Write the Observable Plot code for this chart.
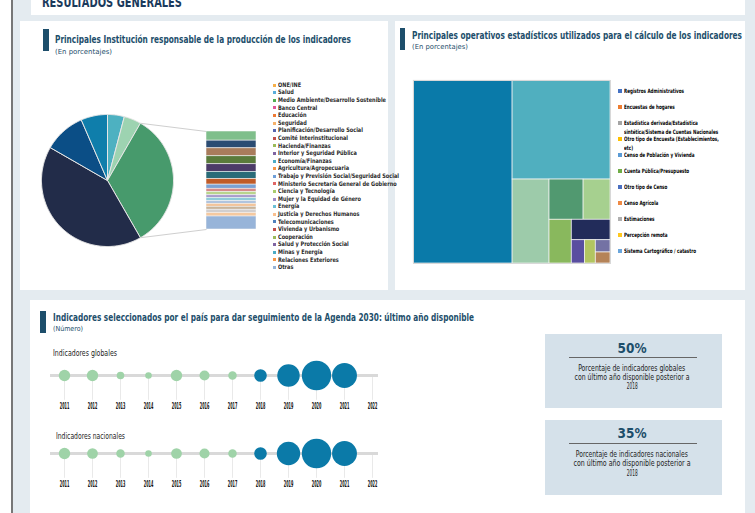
<!DOCTYPE html>
<html><head><meta charset="utf-8">
<script src="https://cdn.jsdelivr.net/npm/d3@7"></script>
<script src="https://cdn.jsdelivr.net/npm/@observablehq/plot@0.6"></script>
<style>
html,body{margin:0;padding:0;}
body{width:755px;height:513px;overflow:hidden;background:#fff;position:relative;}
.blk{position:absolute;}
svg.plot, svg{max-width:none !important;}
</style></head><body>
<script>
// ---------------- DATA ----------------
const instLegend = ["ONE/INE","Salud","Medio Ambiente/Desarrollo Sostenible","Banco Central","Educación","Seguridad","Planificación/Desarrollo Social","Comité Interinstitucional","Hacienda/Finanzas","Interior y Seguridad Pública","Economía/Finanzas","Agricultura/Agropecuaria","Trabajo y Previsión Social/Seguridad Social","Ministerio Secretaría General de Gobierno","Ciencia y Tecnología","Mujer y la Equidad de Género","Energía","Justicia y Derechos Humanos","Telecomunicaciones","Vivienda y Urbanismo","Cooperación","Salud y Protección Social","Minas y Energía","Relaciones Exteriores","Otras"];
const instLegendColors = ["#f6b04a","#5aaedc","#4fae52","#e0569b","#ee7a35","#f6b26b","#5565b0","#c0504d","#9bbb59","#8064a2","#4bacc6","#f79646","#6f9fd8","#e06666","#a9cc6e","#a08cc8","#6cc0d6","#fac08f","#4f81bd","#c0504d","#9bbb59","#8064a2","#4bacc6","#f79646","#95b3d7"];

// pie slices, clockwise from 12 o'clock
const pieSlices = ["Banco Central","Educación","Otras instituciones","ONE/INE","Salud","Medio Ambiente/Desarrollo Sostenible"];
const pieValues = [4.1, 4.2, 33.4, 41.6, 10.2, 6.5];
const pieColors = ["#4db1c1","#9dd3b1","#479a6c","#222c49","#0b4e86","#0f7eab"];

// breakdown bar of "Otras instituciones", top to bottom
const barParts = ["Seguridad","Planificación/Desarrollo Social","Comité Interinstitucional","Hacienda/Finanzas","Interior y Seguridad Pública","Economía/Finanzas","Agricultura/Agropecuaria","Trabajo y Previsión Social/Seguridad Social","Ministerio Secretaría General de Gobierno","Ciencia y Tecnología","Mujer y la Equidad de Género","Energía","Justicia y Derechos Humanos","Telecomunicaciones","Vivienda y Urbanismo","Cooperación","Salud y Protección Social","Otras"];
const barValues = [3.1,2.6,2.7,2.7,2.6,2.4,1.9,1.4,1.1,1.1,0.9,1.1,0.9,1.0,1.0,1.1,1.2,4.4];
const barColors = ["#7fbf8b","#2b4c73","#a97c5c","#5a7b3b","#4c3b68","#2a6b78","#c05b28","#7ba2d4","#d68a8a","#b9d48c","#a99ccb","#8fcbd9","#b0c4de","#f2c49a","#c8b49a","#d2cfcf","#f5c9a0","#97b4d9"];

// operativos estadísticos (treemap)
const opNames = ["Registros Administrativos","Encuestas de hogares","Estadística derivada/Estadística\nsintética/Sistema de Cuentas Nacionales","Otro tipo de Encuesta (Establecimientos,\netc)","Censo de Población y Vivienda","Cuenta Pública/Presupuesto","Otro tipo de Censo","Censo Agrícola","Estimaciones","Percepción remota","Sistema Cartográfico / catastro"];
const opValues = [50.3, 26.9, 8.6, 3.8, 3.0, 2.7, 2.2, 0.85, 0.7, 0.5, 0.45];
const opTileColors = ["#0a7aa9","#50afbf","#9dcbaa","#519970","#a6d08f","#89b85d","#222c5a","#594ea0","#b2c561","#7472a4","#b58358"];
const opLegendColors = ["#4472c4","#ed7d31","#a5a5a5","#ffc000","#5b9bd5","#70ad47","#4a6fc0","#ef8a45","#b0b0b0","#ffc81e","#6aa6dc"];

// timelines
const years = [2011,2012,2013,2014,2015,2016,2017,2018,2019,2020,2021,2022];
const globalCounts = [9,9,4,3,9,7,5,11,35,60,43,0];
const nationalCounts = [9,8,5,3,8,7,5,11,38,60,43,0];
const kpiGlobal = "50%";
const kpiNational = "35%";

// ---------------- STYLE / LAYOUT ----------------
const FONT = "'Liberation Sans Narrow','DejaVu Sans Condensed','Liberation Sans',sans-serif";
const NAVY = "#1d4e6b";
const BG = "#e4ebf0";

function box(x,y,w,h,bg,extra){
  const d=document.createElement("div");d.className="blk";
  Object.assign(d.style,{left:x+"px",top:y+"px",width:w+"px",height:h+"px",background:bg},extra||{});
  document.body.appendChild(d);return d;
}
function label(text,o){
  const d=document.createElement("div");d.className="blk";d.textContent=text;
  Object.assign(d.style,{top:(o.base-0.846*o.size)+"px",fontSize:o.size+"px",lineHeight:o.size+"px",fontWeight:o.weight||"normal",color:o.color||"#222",whiteSpace:"nowrap",fontFamily:FONT,left:o.x+"px"});
  document.body.appendChild(d);
  const nat=d.getBoundingClientRect().width;
  let s=o.sx||1; if(o.w) s=o.w/nat;
  if(o.align==="center"){d.style.left=(o.x-nat/2)+"px";d.style.transformOrigin="50% 0";}
  else d.style.transformOrigin="0 0";
  d.style.transform=`scaleX(${s})`;
  return {el:d,nat,s};
}
function mount(svg,x,y){
  const d=document.createElement("div");d.className="blk";
  d.style.left=x+"px";d.style.top=y+"px";d.appendChild(svg);document.body.appendChild(d);
}

// page background
box(13,0,742,513,BG);
box(11,0,2,513,"#777");
box(31,0,714,15,"#fff");
label("RESULTADOS GENERALES",{x:42,base:7,size:14,weight:"bold",color:"#1b3a5c",w:140});

// panels
box(20,21,368,269,"#fff");
box(395,21,350,269,"#fff");
box(30,300,715,213,"#fff");

// panel titles
box(43,29,6,22,NAVY);
label("Principales Institución responsable de la producción de los indicadores",{x:55,base:43,size:11,weight:"bold",color:NAVY,w:296});
label("(En porcentajes)",{x:55,base:55,size:7,color:NAVY,w:57});
box(400,28,5,22,NAVY);
label("Principales operativos estadísticos utilizados para el cálculo de los indicadores",{x:412,base:39,size:11,weight:"bold",color:NAVY,w:330});
label("(En porcentajes)",{x:412,base:50,size:7,color:NAVY,w:56});
box(40,311,6,22,NAVY);
label("Indicadores seleccionados por el país para dar seguimiento de la Agenda 2030: último año disponible",{x:52.5,base:321,size:11,weight:"bold",color:NAVY,w:421});
label("(Número)",{x:52.5,base:332,size:7,color:NAVY,w:30});

// ---------------- PIE + BAR ----------------
const PIE = {left:30, top:100, w:240, h:160, cx:77, cy:80, r:66};
const BAR = {left:206, top:131, w:50, h:98};
const pieTotal = d3.sum(pieValues);
const piePts = [];
let cum = 0;
const angles = [];
pieValues.forEach((v,i)=>{
  const a0 = cum/pieTotal*2*Math.PI; cum += v; const a1 = cum/pieTotal*2*Math.PI;
  angles.push([a0,a1]);
  piePts.push({s:i,x:0,y:0});
  const n = Math.max(2, Math.ceil((a1-a0)/(Math.PI/180)));
  for(let k=0;k<=n;k++){const a=a0+(a1-a0)*k/n; piePts.push({s:i,x:Math.sin(a),y:Math.cos(a)});}
  piePts.push({s:i,x:0,y:0});
});
const otherIdx = pieSlices.indexOf("Otras instituciones");
const bx = (BAR.left-PIE.left-PIE.cx)/PIE.r;
const byTop = (PIE.cy-(BAR.top-PIE.top))/PIE.r;
const byBot = (PIE.cy-(BAR.top+BAR.h-PIE.top))/PIE.r;
const [oa0,oa1] = angles[otherIdx];
const connectors = [
  {x1:Math.sin(oa0),y1:Math.cos(oa0),x2:bx,y2:byTop},
  {x1:Math.sin(oa1),y1:Math.cos(oa1),x2:bx,y2:byBot}
];
const pie = Plot.plot({
  width:PIE.w,height:PIE.h,margin:0,
  style:"background:transparent;overflow:visible;",
  x:{domain:[-PIE.cx/PIE.r,(PIE.w-PIE.cx)/PIE.r],axis:null},
  y:{domain:[-(PIE.h-PIE.cy)/PIE.r,PIE.cy/PIE.r],axis:null},
  color:{type:"identity"},
  marks:[
    Plot.link(connectors,{x1:"x1",y1:"y1",x2:"x2",y2:"y2",stroke:"#cfcfcf",strokeWidth:1}),
    Plot.line(piePts,{x:"x",y:"y",z:"s",fill:d=>pieColors[d.s],stroke:"#e6e6e6",strokeWidth:1,strokeLinejoin:"round"})
  ]
});
mount(pie,PIE.left,PIE.top);

const barData = barParts.map((n,i)=>({name:n,value:barValues[i],color:barColors[i]}));
const bar = Plot.plot({
  width:BAR.w,height:BAR.h,margin:0,
  style:"background:transparent;",
  x:{domain:["Otras instituciones"],padding:0,axis:null},
  y:{domain:[0,d3.sum(barValues)],reverse:true,axis:null},
  color:{type:"identity"},
  marks:[Plot.barY(barData,{x:()=>"Otras instituciones",y:"value",fill:"color",stroke:"#f2f2f2",strokeWidth:0.6,inset:0})]
});
mount(bar,BAR.left,BAR.top);

// pie legend
{
  const ref = label("Medio Ambiente/Desarrollo Sostenible",{x:-500,base:-50,size:6.2,weight:"bold",w:108});
  const sx = ref.s; ref.el.remove();
  instLegend.forEach((n,i)=>{
    const y = 85 + i*7.6;
    box(273,y-1.5,3,3,instLegendColors[i]);
    label(n,{x:278,base:y+2,size:6.2,weight:"bold",color:"#2a2a2a",sx});
  });
}

// ---------------- TREEMAP ----------------
const TM = {left:413, top:80, w:197, h:183};
function squarify(ratio){
  return function(parent,x0,y0,x1,y1){
    const nodes=parent.children,n=nodes.length;let value=parent.value,i0=0;
    while(i0<n){
      const dx=x1-x0,dy=y1-y0;let i1=i0;let sum=nodes[i1++].value,minV=sum,maxV=sum;
      const alpha=Math.max(dy/dx,dx/dy)/(value*ratio);
      let beta=sum*sum*alpha;let minRatio=Math.max(maxV/beta,beta/minV);
      for(;i1<n;++i1){
        const v=nodes[i1].value,s=sum+v,mn=Math.min(minV,v),mx=Math.max(maxV,v);
        beta=s*s*alpha;const r=Math.max(mx/beta,beta/mn);
        if(r>minRatio)break;
        sum=s;minV=mn;maxV=mx;minRatio=r;
      }
      const row={value:sum,children:nodes.slice(i0,i1)};
      if(dx<dy){const ny=value?y0+dy*sum/value:y1;d3.treemapDice(row,x0,y0,x1,ny);y0=ny;}
      else{const nx=value?x0+dx*sum/value:x1;d3.treemapSlice(row,x0,y0,nx,y1);x0=nx;}
      value-=sum;i0=i1;
    }
  };
}
const root = d3.hierarchy({children:opNames.map((n,i)=>({name:n,value:opValues[i],color:opTileColors[i]}))}).sum(d=>d.value||0);
d3.treemap().size([TM.w,TM.h]).tile(squarify(0.8))(root);
const tm = Plot.plot({
  width:TM.w,height:TM.h,margin:0,
  style:"background:transparent;overflow:visible;",
  x:{domain:[0,TM.w],range:[0,TM.w],axis:null},
  y:{domain:[0,TM.h],range:[0,TM.h],axis:null},
  color:{type:"identity"},
  marks:[
    Plot.rect(root.leaves(),{x1:d=>d.x0,x2:d=>d.x1,y1:d=>d.y0,y2:d=>d.y1,fill:d=>d.data.color,stroke:"#f4f4f4",strokeWidth:0.7}),
    Plot.frame({stroke:"#d8d8d8",strokeWidth:1})
  ]
});
mount(tm,TM.left,TM.top);

// treemap legend
{
  const ref = label("Registros Administrativos",{x:-500,base:-50,size:6,weight:"bold",w:60});
  const sx = ref.s; ref.el.remove();
  opNames.forEach((n,i)=>{
    const y = 91 + i*16;
    box(618,y-2,4,4,opLegendColors[i]);
    n.split("\n").forEach((line,j)=>label(line,{x:624,base:y+2+j*8.6,size:6,weight:"bold",color:"#000",sx}));
  });
}

// ---------------- TIMELINES ----------------
const GREEN="#9fd3a8", BLUE="#0b7aa8";
function timeline(counts){
  const data = years.map((y,i)=>({year:y,value:counts[i]})).filter(d=>d.value>0);
  const svg = Plot.plot({
    width:360,height:75,marginLeft:20,marginRight:12,marginTop:0,marginBottom:0,
    style:`background:transparent;overflow:visible;font-family:${FONT};`,
    x:{type:"point",domain:years,range:[31,344],padding:0,axis:null},
    y:{domain:[0,1],range:[35,66],axis:null},
    r:{domain:[0,60],range:[0,14.7]},
    color:{type:"identity"},
    marks:[
      Plot.ruleX(years,{x:d=>d,y1:()=>0,y2:()=>0.8,stroke:"#e9e9e9",strokeWidth:1}),
      Plot.ruleY([0],{stroke:"#d9d9d9",strokeWidth:3}),
      Plot.dot(data,{x:"year",y:()=>0,r:"value",fill:d=>d.year<2018?GREEN:BLUE}),
      Plot.text(years,{x:d=>d,y:()=>1,text:d=>String(d),fontSize:8,fontWeight:"bold",fill:"#111"})
    ]
  });
  svg.querySelectorAll('g[aria-label="text"] text').forEach(t=>{t.setAttribute("textLength","9.5");t.setAttribute("lengthAdjust","spacingAndGlyphs");});
  return svg;
}
label("Indicadores globales",{x:53,base:357,size:8,color:"#222",w:64});
mount(timeline(globalCounts),30,340);
label("Indicadores nacionales",{x:56,base:439.5,size:8,color:"#222",w:69});
mount(timeline(nationalCounts),30,418);

// KPI boxes
function kpi(top,h,value,lines,lineBases,widths,valBase,ruleY){
  box(545,top,177,h,"#d5e1ea");
  label(value,{x:632,base:valBase,size:14,weight:"bold",color:NAVY,w:29,align:"center"});
  box(569,ruleY,128,1,"#666");
  lines.forEach((l,i)=>label(l,{x:632,base:lineBases[i],size:8,color:"#222",w:widths[i],align:"center"}));
}
kpi(334,74,kpiGlobal,["Porcentaje de indicadores globales","con último año disponible posterior a","2018"],[371.5,381,390],[107,115,11],352.5,357);
kpi(420,75,kpiNational,["Porcentaje de indicadores nacionales","con último año disponible posterior a","2018"],[457.5,467,476.5],[112,117,11],438,443);
</script>
</body></html>
